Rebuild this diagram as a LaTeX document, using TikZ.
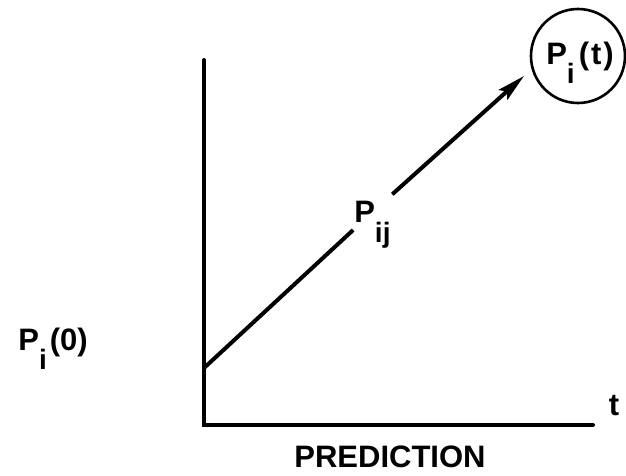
\documentclass[tikz,border=0pt]{standalone}
\usepackage{fontspec}
\setmainfont{Liberation Sans}
\usepackage{tikz}
\usetikzlibrary{calc, arrows.meta, positioning}

% lowered subscript that does not change the height of the label
\newcommand{\lowsub}[1]{\smash{\raisebox{-0.62em}{\fontsize{28}{32}\selectfont #1}}}

\tikzset{
  lettering/.style={font=\fontsize{31}{36}\selectfont\bfseries, inner sep=1pt},
  axisline/.style={line width=4pt, line cap=round, line join=miter},
}

\begin{document}
\begin{tikzpicture}[x=1pt, y=-1pt, >=latex]
    \useasboundingbox (0,0) rectangle (626,476);

    % Axes of the prediction
    \coordinate (ytop) at (204,60);
    \coordinate (orig) at (204,425);
    \coordinate (xend) at (593,425);
    \draw[axisline] (ytop) -- (orig) -- (xend);
    \node[lettering] (tlab) at (614,406) {t};
    \node[lettering] (pred) at (390,457) {PREDICTION};

    % Starting value
    \node[lettering] (pzero) at (53,342) {P\lowsub{i}\hspace{3pt}(0)};

    % Final state in a circle
    \node[draw, circle, line width=2.6pt, minimum size=94pt] (pfin) at (578,56) {};
    \node[lettering] (pfintxt) at (580,56) {P\lowsub{i}\hspace{4pt}(\hspace{2pt}t\hspace{2pt})};

    % Transition arrow, cut by its label
    \coordinate (pstart) at (204,368);
    \coordinate (ptip) at (524,76);
    \node[lettering, inner sep=7pt] (pij) at ($(pstart)!0.52!(ptip)+(2,-4)$) {P\lowsub{ij}};
    \draw[axisline, line cap=butt] (pstart) -- (pij);
    \draw[axisline, line cap=butt, -{Stealth[length=28pt, width=13pt, inset=5pt]}] (pij) -- (ptip);

\end{tikzpicture}
\end{document}
